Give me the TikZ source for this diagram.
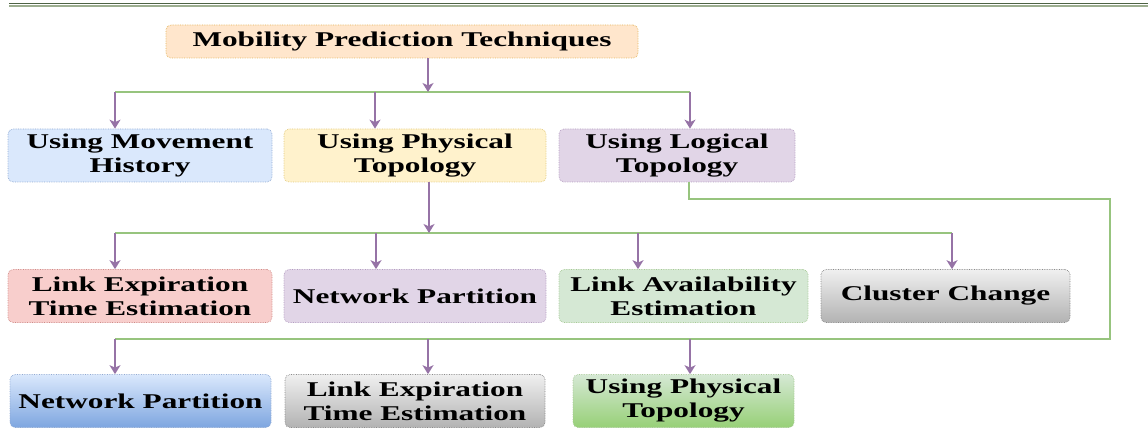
\documentclass[tikz,border=0pt]{standalone}
\usepackage{fontspec}
\newfontfamily\boxfont{Liberation Serif}[FakeStretch=1.49]
\usetikzlibrary{arrows.meta,calc}

\definecolor{lnGreen}{HTML}{97C47E}
\definecolor{arPurple}{HTML}{9673A6}
\definecolor{ruleDark}{HTML}{4E6344}
\definecolor{ruleLight}{HTML}{9DAE90}

\definecolor{fOrange}{HTML}{FFE6CC}\definecolor{dOrange}{HTML}{E3B35A}
\definecolor{fBlue}{HTML}{DAE8FC}\definecolor{dBlue}{HTML}{8FA9D3}
\definecolor{fYellow}{HTML}{FFF2CC}\definecolor{dYellow}{HTML}{E0C77A}
\definecolor{fPurple}{HTML}{E1D5E7}\definecolor{dPurple}{HTML}{B39CC0}
\definecolor{fRed}{HTML}{F8CECC}\definecolor{dRed}{HTML}{CF8A86}
\definecolor{fGreen}{HTML}{D5E8D4}\definecolor{dGreen}{HTML}{A6C995}
\definecolor{dGray}{HTML}{8A8A8A}
\definecolor{gBlue}{HTML}{7EA6E0}
\definecolor{gGreen}{HTML}{97D077}

\tikzset{
  x=1pt, y=-1pt,
  box/.style={rectangle, rounded corners=5pt, densely dotted, line width=0.7pt,
    align=center, inner sep=0pt, minimum height=53pt,
    font=\boxfont\bfseries\fontsize{21}{24}\selectfont},
  orangebox/.style={box, fill=fOrange, draw=dOrange, minimum height=33pt},
  bluebox/.style={box, fill=fBlue, draw=dBlue},
  yellowbox/.style={box, fill=fYellow, draw=dYellow},
  purplebox/.style={box, fill=fPurple, draw=dPurple},
  redbox/.style={box, fill=fRed, draw=dRed},
  greenbox/.style={box, fill=fGreen, draw=dGreen},
  graygrad/.style={box, top color=white!94!black, bottom color=black!30, draw=dGray},
  bluegrad/.style={box, top color=fBlue, bottom color=gBlue, draw=dBlue},
  greengrad/.style={box, top color=fGreen, bottom color=gGreen, draw=dGreen},
  bus/.style={draw=lnGreen, line width=1.8pt},
  arr/.style={draw=arPurple, line width=1.8pt,
    -{Stealth[length=9pt,width=11pt,inset=2.5pt]}},
}

\begin{document}
\begin{tikzpicture}
\useasboundingbox (0,0) rectangle (1148,438);

% header rules
\draw[ruleDark, line width=1pt] (9,3.3) -- (1148,3.3);
\draw[ruleLight, line width=2.4pt] (9,6.3) -- (1148,6.3);

% root
\node[orangebox, minimum width=472pt] (root) at (402,41.5) {Mobility Prediction Techniques};

% second level
\node[bluebox, minimum width=264pt] (hist) at (140,155.5) {Using Movement\\History};
\node[yellowbox, minimum width=262pt] (phys) at (415,155.5) {Using Physical\\Topology};
\node[purplebox, minimum width=236pt] (logi) at (677,155.5) {Using Logical\\Topology};

% third level (physical topology)
\node[redbox, minimum width=264pt] (pLet) at (140,296) {Link Expiration\\Time Estimation};
\node[purplebox, minimum width=262pt] (pNet) at (415,296) {Network Partition};
\node[greenbox, minimum width=249pt] (pLae) at (683.5,296) {Link Availability\\Estimation};
\node[graygrad, minimum width=249pt] (pClu) at (945.5,296) {Cluster Change};

% third level (logical topology)
\node[bluegrad, minimum width=261pt] (lNet) at (140.5,401) {Network Partition};
\node[graygrad, minimum width=260pt] (lLet) at (415,401) {Link Expiration\\Time Estimation};
\node[greengrad, minimum width=221pt] (lPhy) at (683.5,401) {Using Physical\\Topology};

% junction points
\coordinate (j1) at (428,92);
\coordinate (j1a) at (115,92);
\coordinate (j1b) at (375,92);
\coordinate (j1c) at (690,92);

\coordinate (j2) at (429,233);
\coordinate (j2a) at (115,233);
\coordinate (j2b) at (376,233);
\coordinate (j2c) at (638,233);
\coordinate (j2d) at (952,233);

\coordinate (k1) at (689,199);
\coordinate (k2) at (1110,199);
\coordinate (k3) at (1110,339);
\coordinate (j3a) at (115,339);
\coordinate (j3b) at (428,339);
\coordinate (j3c) at (690,339);

% buses
\draw[bus] (j1a) -- (j1c);
\draw[bus] (j2a) -- (j2d);
\draw[bus, line join=miter] (logi.south -| k1) -- (k1) -- (k2) -- (k3) -- (j3a);

% arrows
\draw[arr] (root.south -| j1) -- (j1);
\draw[arr] (j1a) -- (hist.north -| j1a);
\draw[arr] (j1b) -- (phys.north -| j1b);
\draw[arr] (j1c) -- (logi.north -| j1c);

\draw[arr] (phys.south -| j2) -- (j2);
\draw[arr] (j2a) -- (pLet.north -| j2a);
\draw[arr] (j2b) -- (pNet.north -| j2b);
\draw[arr] (j2c) -- (pLae.north -| j2c);
\draw[arr] (j2d) -- (pClu.north -| j2d);

\draw[arr] (j3a) -- (lNet.north -| j3a);
\draw[arr] (j3b) -- (lLet.north -| j3b);
\draw[arr] (j3c) -- (lPhy.north -| j3c);
\end{tikzpicture}
\end{document}
